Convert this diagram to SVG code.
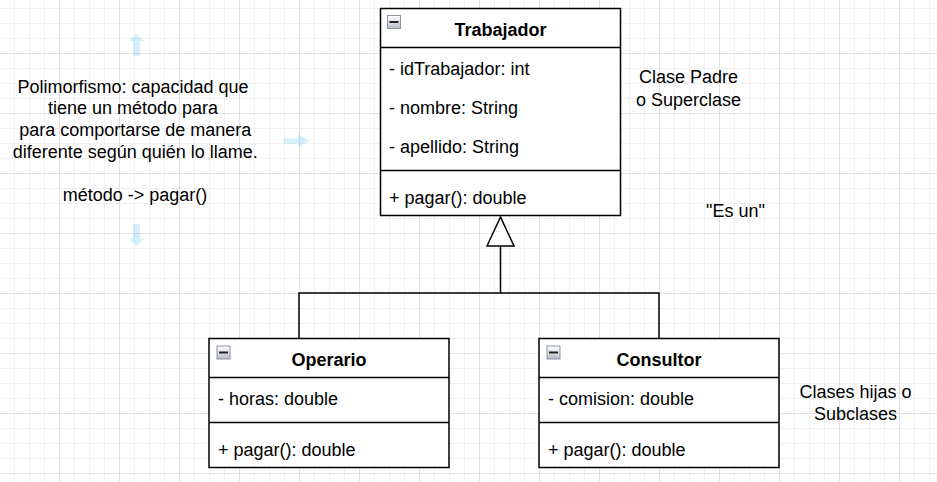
<svg xmlns="http://www.w3.org/2000/svg" width="937" height="482" viewBox="0 0 937 482">
<style>
text{font-family:"Liberation Sans",Arial,sans-serif;font-size:18px;fill:#000}
.title{font-weight:bold;text-anchor:middle}
.mid{text-anchor:middle}
.box{fill:#fff;stroke:#000;stroke-width:1.5}
.sep{stroke:#000;stroke-width:1.5;fill:none}
.edge{stroke:#000;stroke-width:1.5;fill:none}
.hover{fill:#29b6f2;opacity:0.2}
</style>
<defs>
<pattern id="grid" x="59" y="53" width="60" height="60" patternUnits="userSpaceOnUse">
<path d="M15.5 0V60M30.5 0V60M45.5 0V60M0 15.5H60M0 30.5H60M0 45.5H60" stroke="#f1f1f1" stroke-width="1" fill="none"/>
<path d="M0.5 0V60M0 0.5H60" stroke="#e2e2e2" stroke-width="1" fill="none"/>
</pattern>
<linearGradient id="ig" x1="0" y1="0" x2="0" y2="1">
<stop offset="0" stop-color="#ffffff"/>
<stop offset="1" stop-color="#b8bcc4"/>
</linearGradient>
<g id="minus">
<rect x="0.5" y="0.5" width="13" height="13" fill="url(#ig)" stroke="#8c93a3" stroke-width="1"/>
<rect x="2.5" y="6" width="9" height="2" fill="#222"/>
</g>
<marker id="inh" markerUnits="userSpaceOnUse" markerWidth="32" markerHeight="30" refX="30" refY="14.5" orient="auto" viewBox="0 0 32 30">
<path d="M1 1L30 14.5L1 28Z" fill="#fff" stroke="#000" stroke-width="1.5"/>
</marker>
</defs>
<rect width="937" height="482" fill="#fff"/>
<rect width="937" height="482" fill="url(#grid)"/>

<g id="hover-arrows">
<path class="hover" d="M136.5 34L144 41H140V56H133V41H129Z"/>
<path class="hover" d="M136.5 246L144 239H140V224H133V239H129Z"/>
<path class="hover" d="M309 141L298 134V138.5H284V143.5H298V148Z"/>
</g>

<g id="connectors">
<path class="edge" d="M659 338.5V293H500.5"/>
<path class="edge" d="M299 338.5V293H500.5V217" marker-end="url(#inh)"/>
</g>

<g id="node-trabajador">
<rect class="box" x="380.5" y="8.5" width="240" height="207"/>
<path class="sep" d="M380.5 47.5H620.5M380.5 170.5H620.5"/>
<use href="#minus" x="387" y="15"/>
<text class="title" x="500.5" y="35.5">Trabajador</text>
<text x="389" y="75">- idTrabajador: int</text>
<text x="389" y="114">- nombre: String</text>
<text x="389" y="153">- apellido: String</text>
<text x="389" y="203.5">+ pagar(): double</text>
</g>

<g id="node-operario">
<rect class="box" x="209" y="338.5" width="240" height="129"/>
<path class="sep" d="M209 377.5H449M209 422.5H449"/>
<use href="#minus" x="216.5" y="345.5"/>
<text class="title" x="329" y="366">Operario</text>
<text x="218" y="405">- horas: double</text>
<text x="218" y="455.5">+ pagar(): double</text>
</g>

<g id="node-consultor">
<rect class="box" x="539" y="338.5" width="240" height="129"/>
<path class="sep" d="M539 377.5H779M539 422.5H779"/>
<use href="#minus" x="546.5" y="345.5"/>
<text class="title" x="659" y="366">Consultor</text>
<text x="548" y="405">- comision: double</text>
<text x="548" y="455.5">+ pagar(): double</text>
</g>

<g id="label-polimorfismo">
<text class="mid" x="133" y="92.7">Polimorfismo: capacidad que</text>
<text class="mid" x="133" y="114.3">tiene un método para</text>
<text class="mid" x="135.3" y="135.9">para comportarse de manera</text>
<text class="mid" x="135.3" y="157.5">diferente según quién lo llame.</text>
<text class="mid" x="135" y="200.7">método -&gt; pagar()</text>
</g>

<g id="label-clase-padre">
<text class="mid" x="688.6" y="83.3">Clase Padre</text>
<text class="mid" x="688.6" y="105.7">o Superclase</text>
</g>

<g id="label-es-un">
<text class="mid" x="735.5" y="216.7">"Es un"</text>
</g>

<g id="label-clases-hijas">
<text class="mid" x="855.5" y="398.3">Clases hijas o</text>
<text class="mid" x="855.5" y="420">Subclases</text>
</g>
</svg>
